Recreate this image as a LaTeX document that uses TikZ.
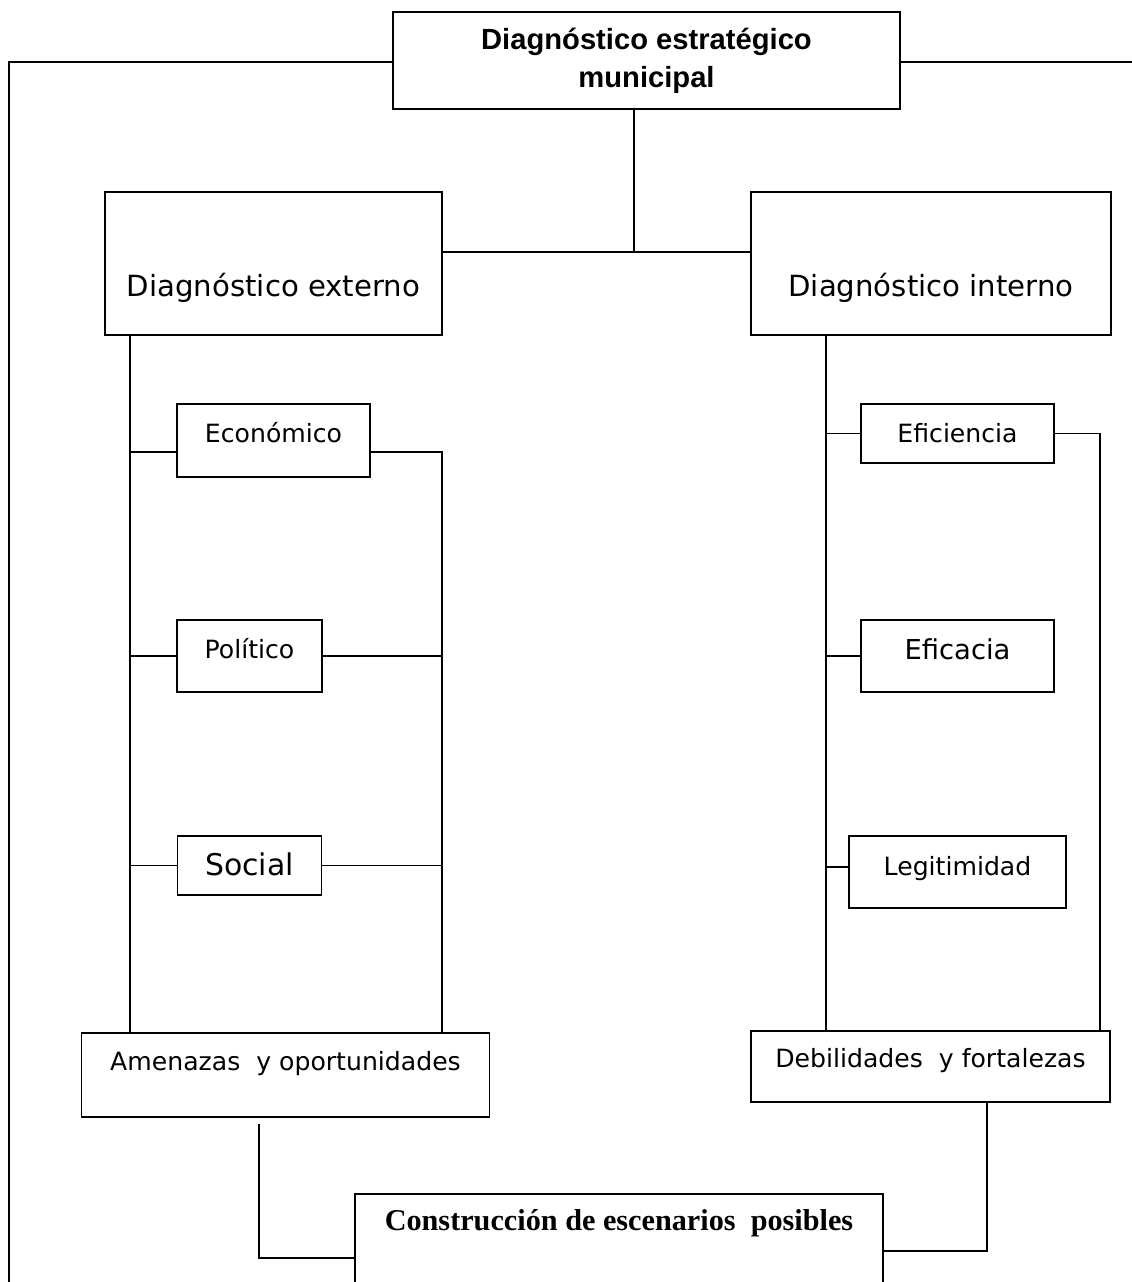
\documentclass[tikz,border=0pt]{standalone}
\usepackage{fontspec}
\usepackage{tikz}
\newfontfamily\djv{DejaVu Sans}
\newfontfamily\lsans{Liberation Sans}
\newfontfamily\lserif{Liberation Serif}
\tikzstyle{titlebox} = [rectangle, minimum width=10.14cm, minimum height=1.94cm, align=center, draw=black, line width=1pt, font=\lsans\bfseries\fontsize{16.6}{21.6}\selectfont]
\tikzstyle{mainbox} = [rectangle, inner sep=0pt, text height=2.1cm, text depth=0.76cm, text centered, draw=black, line width=1pt, font=\djv\fontsize{16.6}{20}\selectfont]
\tikzstyle{subbox} = [rectangle, inner sep=0pt, text centered, draw=black, line width=1pt, font=\djv\fontsize{14.3}{17}\selectfont]
\tikzstyle{resultbox} = [rectangle, inner sep=0pt, text centered, draw=black, line width=1pt, font=\lserif\bfseries\fontsize{17.2}{20}\selectfont]
\tikzstyle{conn} = [line width=0.9pt]

\begin{document}
\begin{tikzpicture}[node distance=2cm]
	\useasboundingbox (0,0) rectangle (22.62,-25.64);
	
	\node (top) [titlebox] at (12.93,-1.21) {Diagnóstico estratégico\\municipal};
	\node (ext) [mainbox, minimum width=6.74cm, below of=top, xshift=-7.46cm, yshift=-2.06cm] {Diagnóstico externo};
	\node (int) [mainbox, minimum width=7.2cm, right of=ext, xshift=11.15cm] {Diagnóstico interno};
	
	\node (econ) [subbox, minimum width=3.86cm, text height=0.76cm, text depth=0.70cm, below of=ext, yshift=-1.54cm] {Económico};
	\node (pol) [subbox, minimum width=2.9cm, text height=0.76cm, text depth=0.68cm, below of=econ, xshift=-0.48cm, yshift=-2.31cm] {Político};
	\node (soc) [subbox, minimum width=2.88cm, text height=0.78cm, text depth=0.40cm, below of=pol, yshift=-2.19cm, font=\djv\fontsize{17}{20}\selectfont] {Social};
	\node (ame) [subbox, minimum width=8.16cm, text height=0.74cm, text depth=0.94cm, below of=soc, xshift=0.72cm, yshift=-2.19cm] {Amenazas\ \ y oportunidades};
	
	\node (efi) [subbox, minimum width=3.86cm, text height=0.76cm, text depth=0.42cm, below of=int, xshift=0.53cm, yshift=-1.40cm] {Eficiencia};
	\node (efc) [subbox, minimum width=3.86cm, text height=0.78cm, text depth=0.66cm, below of=efi, yshift=-2.45cm, font=\djv\fontsize{15.6}{18}\selectfont] {Eficacia};
	\node (leg) [subbox, minimum width=4.34cm, text height=0.78cm, text depth=0.66cm, below of=efc, yshift=-2.32cm] {Legitimidad};
	\node (deb) [subbox, minimum width=7.18cm, text height=0.72cm, text depth=0.70cm, below of=leg, xshift=-0.54cm, yshift=-1.89cm] {Debilidades\ \ y fortalezas};
	
	\node (con) [resultbox, minimum width=10.56cm, text height=0.72cm, text depth=1.84cm] at (12.38,-25.16) {Construcción de escenarios\ \ posibles};
	
	\coordinate (junc) at (12.68,-5.04);
	\coordinate (cornerL) at (0.18,-1.24);
	\coordinate (endL) at (0.18,-25.8);
	\coordinate (endR) at (22.8,-1.24);
	\coordinate (busA) at (2.6,0);
	\coordinate (busB) at (8.84,0);
	\coordinate (busC) at (16.52,0);
	\coordinate (busD) at (22.0,0);
	\coordinate (dropA) at (5.18,-22.48);
	\coordinate (dropB) at (19.74,0);
	
	\draw [conn] (top.west |- cornerL) -- (cornerL) -- (endL);
	\draw [conn] (top.east |- endR) -- (endR);
	\draw [conn] (top.south -| junc) -- (junc);
	\draw [conn] (ext.east |- junc) -- (int.west |- junc);
	
	\draw [conn] (ext.south -| busA) -- (ame.north -| busA);
	\draw [conn] ([yshift=-0.23cm]econ.west) -- ([yshift=-0.23cm]econ.west -| busA);
	\draw [conn] (pol.west) -- (pol.west -| busA);
	\draw [conn] (soc.west) -- (soc.west -| busA);
	\draw [conn] ([yshift=-0.23cm]econ.east) -| (ame.north -| busB);
	\draw [conn] (pol.east) -- (pol.east -| busB);
	\draw [conn] (soc.east) -- (soc.east -| busB);
	
	\draw [conn] (int.south -| busC) -- (deb.north -| busC);
	\draw [conn] (efi.west) -- (efi.west -| busC);
	\draw [conn] (efc.west) -- (efc.west -| busC);
	\draw [conn] ([yshift=0.1cm]leg.west) -- ([yshift=0.1cm]leg.west -| busC);
	\draw [conn] (efi.east) -| (deb.north -| busD);
	
	\draw [conn] (dropA) |- (con.west);
	\draw [conn] (deb.south -| dropB) |- ([yshift=0.14cm]con.east);
	
\end{tikzpicture}
\end{document}
